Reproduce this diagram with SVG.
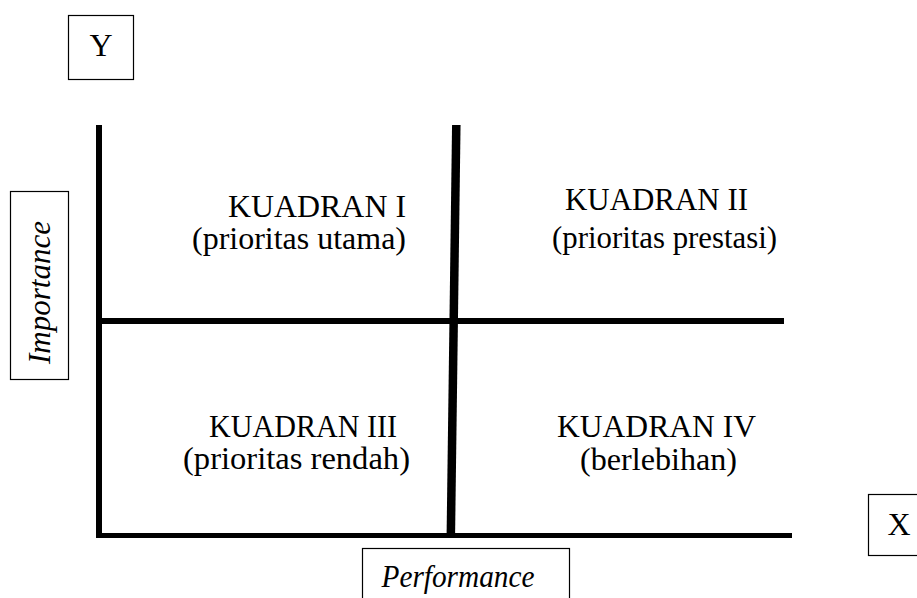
<svg xmlns="http://www.w3.org/2000/svg" width="917" height="598" viewBox="0 0 917 598" font-family="'Liberation Serif', 'Times New Roman', serif">
<style>
text{font-family:'Liberation Serif','Times New Roman',serif;fill:#000}
.q{font-size:31px}
.ax{font-size:31px;font-style:italic}
.lb{font-size:32px}
.box{fill:#fff;stroke:#000;stroke-width:1.2}
.ln{stroke:#000;fill:none;stroke-linecap:butt}
</style>
<rect width="917" height="598" fill="#fff"/>
<g id="connectors">
<line class="ln" x1="99" y1="125" x2="99" y2="538" stroke-width="6"/>
<line class="ln" x1="96" y1="535.5" x2="792" y2="535.5" stroke-width="5"/>
<line class="ln" x1="99" y1="321" x2="784" y2="321" stroke-width="6"/>
<line class="ln" x1="456.3" y1="125" x2="450.8" y2="538" stroke-width="8.5"/>
</g>
<g id="axis-y">
<rect class="box" x="68.5" y="15.5" width="65" height="64"/>
<text class="lb" x="101" y="55.5" text-anchor="middle">Y</text>
</g>
<g id="axis-x">
<rect class="box" x="868.5" y="494.5" width="60" height="61"/>
<text class="lb" x="899" y="535" text-anchor="middle">X</text>
</g>
<g id="importance">
<rect class="box" x="10.5" y="191.5" width="58" height="188"/>
<text class="ax" transform="translate(50,292.5) rotate(-90)" text-anchor="middle">Importance</text>
</g>
<g id="performance">
<rect class="box" x="362.5" y="548.5" width="207" height="60"/>
<text class="ax" x="381.5" y="587" textLength="153" lengthAdjust="spacingAndGlyphs">Performance</text>
</g>
<g id="kuadran-1">
<text class="q" x="228" y="216.5" textLength="178" lengthAdjust="spacingAndGlyphs">KUADRAN I</text>
<text class="q" x="192" y="248.5" textLength="214" lengthAdjust="spacingAndGlyphs">(prioritas utama)</text>
</g>
<g id="kuadran-2">
<text class="q" x="565" y="209.5" textLength="183" lengthAdjust="spacingAndGlyphs">KUADRAN II</text>
<text class="q" x="552" y="248" textLength="225" lengthAdjust="spacingAndGlyphs">(prioritas prestasi)</text>
</g>
<g id="kuadran-3">
<text class="q" x="209" y="436.5" textLength="188" lengthAdjust="spacingAndGlyphs">KUADRAN III</text>
<text class="q" x="183" y="469" textLength="227" lengthAdjust="spacingAndGlyphs">(prioritas rendah)</text>
</g>
<g id="kuadran-4">
<text class="q" x="557" y="437" textLength="199" lengthAdjust="spacingAndGlyphs">KUADRAN IV</text>
<text class="q" x="580" y="470" textLength="157" lengthAdjust="spacingAndGlyphs">(berlebihan)</text>
</g>
</svg>
